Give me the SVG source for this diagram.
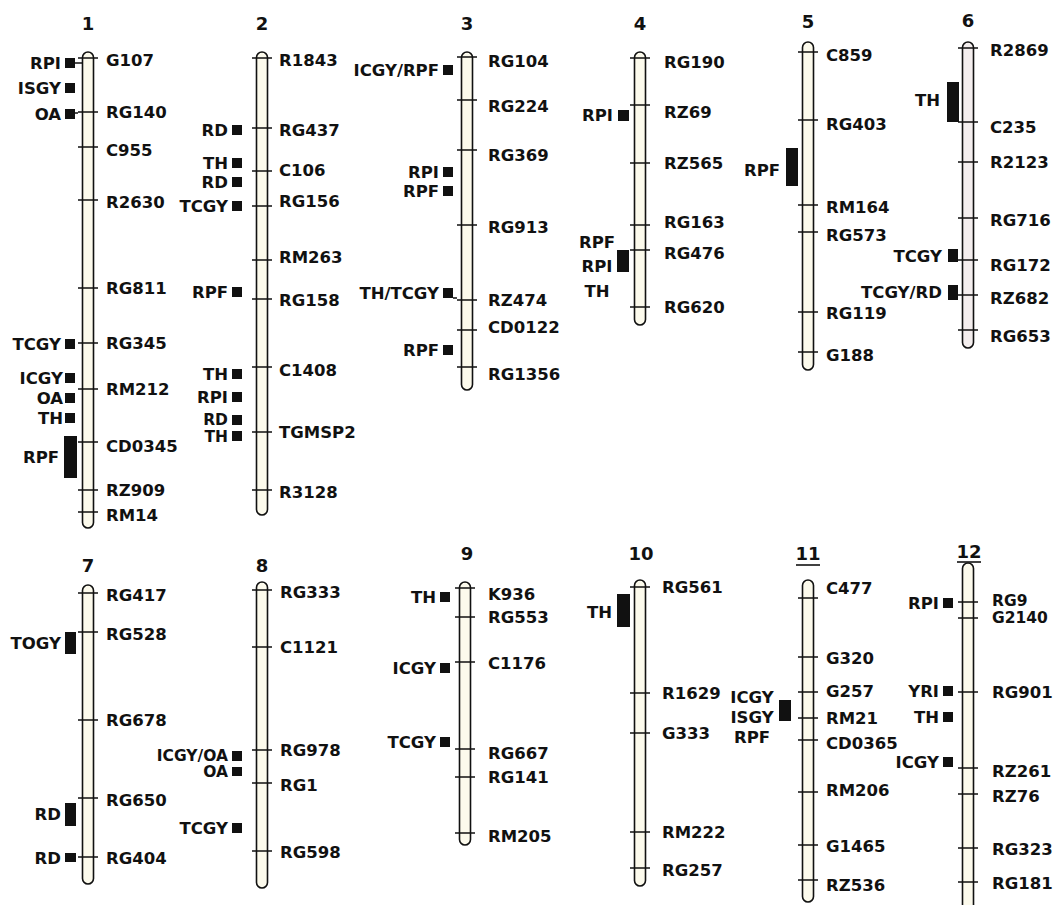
<svg xmlns="http://www.w3.org/2000/svg" width="1060" height="905" viewBox="0 0 1060 905">
<style>
.chr{fill:#fcfaec;stroke:#111;stroke-width:1.6}
.chr6{fill:#f4eeee}
.tk{stroke:#111;stroke-width:1.6;fill:none}
.sq{fill:#111}
text{font-family:"DejaVu Sans","Liberation Sans",sans-serif;font-weight:bold;fill:#111}
.lb{font-size:16.5px}
.sm{font-size:15.5px}
.e{text-anchor:end}
.m{text-anchor:middle}
.num{font-size:18px;text-anchor:middle}
</style>
<rect width="1060" height="905" fill="#fff"/>
<g id="chr1">
<text class="num" x="88" y="30">1</text>
<rect class="chr" x="82.5" y="52" width="11" height="476" rx="5.5"/>
<path class="tk" d="M78 58h20M78 112h20M78 147h20M78 200h20M78 288h20M78 343h20M78 389h20M78 442h20M78 490h20M78 512h20"/>
<g class="lb"><text x="106" y="66">G107</text><text x="106" y="118">RG140</text><text x="106" y="156">C955</text><text x="106" y="208">R2630</text><text x="106" y="294">RG811</text><text x="106" y="349">RG345</text><text x="106" y="395">RM212</text><text x="106" y="452">CD0345</text><text x="106" y="496">RZ909</text><text x="106" y="521">RM14</text></g>
<rect class="sq" x="65" y="58" width="10" height="10"/><rect class="sq" x="65" y="83" width="10" height="10"/><rect class="sq" x="65" y="109" width="10" height="10"/><rect class="sq" x="65" y="339" width="10" height="10"/><rect class="sq" x="65" y="373" width="10" height="10"/><rect class="sq" x="65" y="393" width="10" height="10"/><rect class="sq" x="65" y="413" width="10" height="10"/><rect class="sq" x="64" y="436" width="13" height="42"/>
<g class="lb e"><text x="61" y="69">RPI</text><text x="61" y="94">ISGY</text><text x="61" y="120">OA</text><text x="61" y="350">TCGY</text><text x="63" y="384">ICGY</text><text x="63" y="404">OA</text><text x="63" y="424">TH</text><text x="59" y="463">RPF</text></g>
</g>
<g id="chr2">
<text class="num" x="262" y="30">2</text>
<rect class="chr" x="256.5" y="52" width="11" height="463" rx="5.5"/>
<path class="tk" d="M252 58h20M252 128h20M252 171h20M252 206h20M252 260h20M252 299h20M252 367h20M252 432h20M252 490h20"/>
<g class="lb"><text x="279" y="66">R1843</text><text x="279" y="136">RG437</text><text x="279" y="176">C106</text><text x="279" y="207">RG156</text><text x="279" y="263">RM263</text><text x="279" y="306">RG158</text><text x="279" y="376">C1408</text><text x="279" y="438">TGMSP2</text><text x="279" y="498">R3128</text></g>
<rect class="sq" x="232" y="125" width="10" height="10"/><rect class="sq" x="232" y="158" width="10" height="10"/><rect class="sq" x="232" y="177" width="10" height="10"/><rect class="sq" x="232" y="201" width="10" height="10"/><rect class="sq" x="232" y="287" width="10" height="10"/><rect class="sq" x="232" y="369" width="10" height="10"/><rect class="sq" x="232" y="392" width="10" height="10"/><rect class="sq" x="232" y="415" width="10" height="10"/><rect class="sq" x="232" y="431" width="10" height="10"/>
<g class="lb e"><text x="228" y="136">RD</text><text x="228" y="169">TH</text><text x="228" y="188">RD</text><text x="228" y="212">TCGY</text><text x="228" y="298">RPF</text><text x="228" y="380">TH</text><text x="228" y="403">RPI</text></g>
<g class="sm e"><text x="228" y="425">RD</text><text x="228" y="442">TH</text></g>
</g>
<g id="chr3">
<text class="num" x="467" y="30">3</text>
<rect class="chr" x="461.5" y="52" width="11" height="338" rx="5.5"/>
<path class="tk" d="M457 57h20M457 100h20M457 150h20M457 225h20M457 300h20M457 330h20M457 367h20"/>
<g class="lb"><text x="488" y="67">RG104</text><text x="488" y="112">RG224</text><text x="488" y="161">RG369</text><text x="488" y="233">RG913</text><text x="488" y="306">RZ474</text><text x="488" y="333">CD0122</text><text x="488" y="380">RG1356</text></g>
<rect class="sq" x="443" y="65" width="10" height="10"/><rect class="sq" x="443" y="167" width="10" height="10"/><rect class="sq" x="443" y="186" width="10" height="10"/><rect class="sq" x="443" y="288" width="10" height="10"/><rect class="sq" x="443" y="345" width="10" height="10"/>
<g class="lb e"><text x="439" y="76">ICGY/RPF</text><text x="439" y="178">RPI</text><text x="439" y="197">RPF</text><text x="439" y="299">TH/TCGY</text><text x="439" y="356">RPF</text></g>
</g>
<g id="chr4">
<text class="num" x="640" y="30">4</text>
<rect class="chr" x="634.5" y="52" width="11" height="273" rx="5.5"/>
<path class="tk" d="M630 58h20M630 105h20M630 163h20M630 225h20M630 250h20M630 307h20"/>
<g class="lb"><text x="664" y="68">RG190</text><text x="664" y="118">RZ69</text><text x="664" y="169">RZ565</text><text x="664" y="228">RG163</text><text x="664" y="259">RG476</text><text x="664" y="313">RG620</text></g>
<rect class="sq" x="618" y="110" width="11" height="11"/><rect class="sq" x="617" y="250" width="12" height="22"/>
<g class="lb"><text class="e" x="613" y="121">RPI</text><text class="m" x="597" y="248">RPF</text><text class="m" x="597" y="272">RPI</text><text class="m" x="597" y="297">TH</text></g>
</g>
<g id="chr5">
<text class="num" x="808" y="28">5</text>
<rect class="chr" x="802.5" y="42" width="11" height="328" rx="5.5"/>
<path class="tk" d="M798 52h20M798 120h20M798 205h20M798 232h20M798 312h20M798 352h20"/>
<g class="lb"><text x="826" y="61">C859</text><text x="826" y="130">RG403</text><text x="826" y="213">RM164</text><text x="826" y="241">RG573</text><text x="826" y="319">RG119</text><text x="826" y="361">G188</text></g>
<rect class="sq" x="786" y="148" width="12" height="38"/>
<text class="lb e" x="780" y="176">RPF</text>
</g>
<g id="chr6">
<text class="num" x="968" y="27">6</text>
<rect class="chr chr6" x="962.5" y="42" width="11" height="306" rx="5.5"/>
<path class="tk" d="M958 48h20M958 122h20M958 162h20M958 218h20M958 260h20M958 295h20M958 330h20"/>
<g class="lb"><text x="990" y="56">R2869</text><text x="990" y="133">C235</text><text x="990" y="168">R2123</text><text x="990" y="226">RG716</text><text x="990" y="271">RG172</text><text x="990" y="304">RZ682</text><text x="990" y="342">RG653</text></g>
<rect class="sq" x="947" y="82" width="12" height="40"/><rect class="sq" x="948" y="249" width="10" height="13"/><rect class="sq" x="948" y="285" width="10" height="15"/>
<g class="lb e"><text x="940" y="106">TH</text><text x="942" y="262">TCGY</text><text x="942" y="298">TCGY/RD</text></g>
</g>
<g id="chr7">
<text class="num" x="88" y="572">7</text>
<rect class="chr" x="82.5" y="585" width="11" height="299" rx="5.5"/>
<path class="tk" d="M78 593h20M78 632h20M78 720h20M78 798h20M78 857h20"/>
<g class="lb"><text x="106" y="601">RG417</text><text x="106" y="640">RG528</text><text x="106" y="726">RG678</text><text x="106" y="806">RG650</text><text x="106" y="864">RG404</text></g>
<rect class="sq" x="65" y="632" width="11" height="22"/><rect class="sq" x="65" y="803" width="11" height="23"/><rect class="sq" x="65" y="853" width="11" height="9"/>
<g class="lb e"><text x="61" y="649">TOGY</text><text x="61" y="820">RD</text><text x="61" y="864">RD</text></g>
</g>
<g id="chr8">
<text class="num" x="262" y="572">8</text>
<rect class="chr" x="256.5" y="582" width="11" height="306" rx="5.5"/>
<path class="tk" d="M252 590h20M252 647h20M252 750h20M252 783h20M252 851h20"/>
<g class="lb"><text x="280" y="598">RG333</text><text x="280" y="653">C1121</text><text x="280" y="756">RG978</text><text x="280" y="791">RG1</text><text x="280" y="858">RG598</text></g>
<rect class="sq" x="232" y="751" width="10" height="10"/><rect class="sq" x="232" y="767" width="10" height="9"/><rect class="sq" x="232" y="823" width="10" height="10"/>
<g class="sm e"><text x="228" y="761">ICGY/OA</text><text x="228" y="777">OA</text></g>
<text class="lb e" x="228" y="834">TCGY</text>
</g>
<g id="chr9">
<text class="num" x="467" y="560">9</text>
<rect class="chr" x="459.5" y="582" width="11" height="263" rx="5.5"/>
<path class="tk" d="M455 588h20M455 617h20M455 662h20M455 749h20M455 777h20M455 833h20"/>
<g class="lb"><text x="488" y="600">K936</text><text x="488" y="623">RG553</text><text x="488" y="669">C1176</text><text x="488" y="759">RG667</text><text x="488" y="783">RG141</text><text x="488" y="842">RM205</text></g>
<rect class="sq" x="440" y="592" width="10" height="10"/><rect class="sq" x="440" y="663" width="10" height="10"/><rect class="sq" x="440" y="737" width="10" height="10"/>
<g class="lb e"><text x="436" y="603">TH</text><text x="436" y="674">ICGY</text><text x="436" y="748">TCGY</text></g>
</g>
<g id="chr10">
<text class="num" x="641" y="560">10</text>
<rect class="chr" x="634.5" y="580" width="11" height="306" rx="5.5"/>
<path class="tk" d="M630 587h20M630 693h20M630 733h20M630 832h20M630 868h20"/>
<g class="lb"><text x="662" y="593">RG561</text><text x="662" y="699">R1629</text><text x="662" y="739">G333</text><text x="662" y="838">RM222</text><text x="662" y="876">RG257</text></g>
<rect class="sq" x="617" y="594" width="13" height="33"/>
<text class="lb e" x="612" y="618">TH</text>
</g>
<g id="chr11">
<text class="num" x="808" y="560">11</text>
<path class="tk" d="M796 565h24"/>
<rect class="chr" x="802.5" y="580" width="11" height="322" rx="5.5"/>
<path class="tk" d="M798 598h20M798 657h20M798 692h20M798 718h20M798 740h20M798 792h20M798 845h20M798 880h20"/>
<g class="lb"><text x="826" y="594">C477</text><text x="826" y="664">G320</text><text x="826" y="697">G257</text><text x="826" y="724">RM21</text><text x="826" y="749">CD0365</text><text x="826" y="796">RM206</text><text x="826" y="852">G1465</text><text x="826" y="891">RZ536</text></g>
<rect class="sq" x="779" y="700" width="12" height="21"/>
<g class="lb m"><text x="752" y="703">ICGY</text><text x="752" y="723">ISGY</text><text x="752" y="743">RPF</text></g>
</g>
<g id="chr12">
<text class="num" x="969" y="558">12</text>
<path class="tk" d="M957 562h24"/>
<rect class="chr" x="962.5" y="563" width="11" height="360" rx="5.5"/>
<path class="tk" d="M958 602h20M958 618h20M958 692h20M958 768h20M958 794h20M958 848h20M958 882h20"/>
<g class="sm"><text x="992" y="606">RG9</text><text x="992" y="623">G2140</text></g>
<g class="lb"><text x="992" y="698">RG901</text><text x="992" y="777">RZ261</text><text x="992" y="802">RZ76</text><text x="992" y="855">RG323</text><text x="992" y="889">RG181</text></g>
<rect class="sq" x="943" y="598" width="10" height="10"/><rect class="sq" x="943" y="686" width="10" height="10"/><rect class="sq" x="943" y="712" width="10" height="10"/><rect class="sq" x="943" y="757" width="10" height="10"/>
<g class="lb e"><text x="939" y="609">RPI</text><text x="939" y="697">YRI</text><text x="939" y="723">TH</text><text x="939" y="768">ICGY</text></g>
</g>
<g id="connectors">
<path class="tk" d="M453 298H457M75 113H78M75 63H83"/>
</g>
</svg>
